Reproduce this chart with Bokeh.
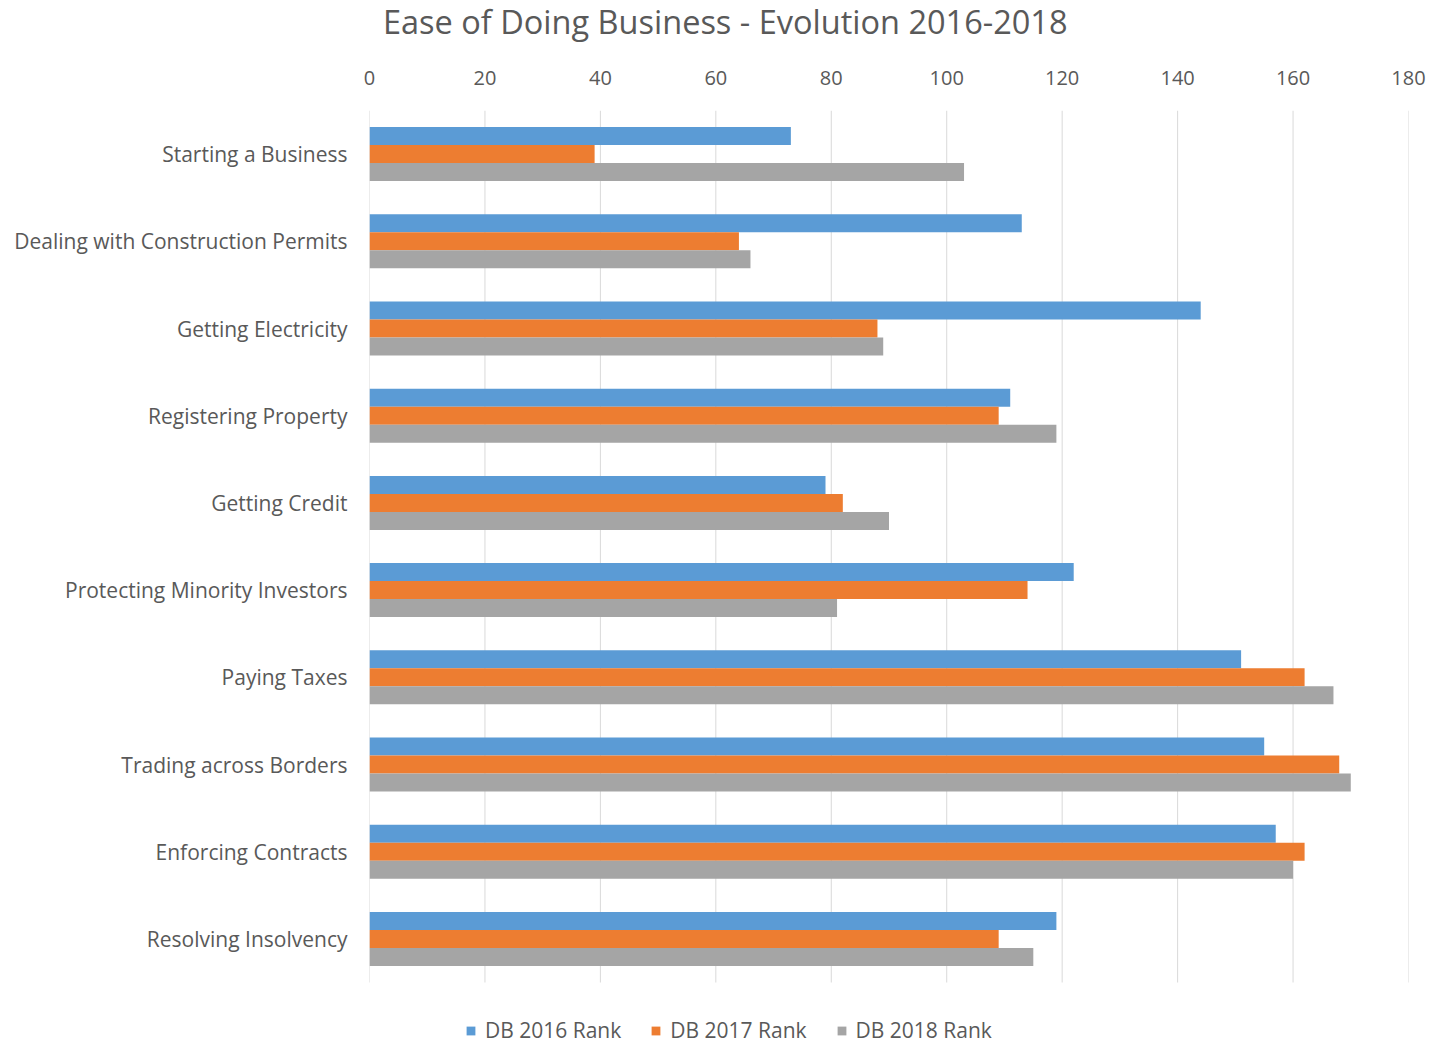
from bokeh.plotting import figure
from bokeh.models import Range1d, Legend, LegendItem, ColumnDataSource, FixedTicker, Div
from bokeh.layouts import column
from bokeh.transform import dodge
from bokeh.embed import file_html
from bokeh.resources import INLINE

categories = ["Starting a Business", "Dealing with Construction Permits", "Getting Electricity",
              "Registering Property", "Getting Credit", "Protecting Minority Investors",
              "Paying Taxes", "Trading across Borders", "Enforcing Contracts", "Resolving Insolvency"]
db2016 = [73, 113, 144, 111, 79, 122, 151, 155, 157, 119]
db2017 = [39, 64, 88, 109, 82, 114, 162, 168, 162, 109]
db2018 = [103, 66, 89, 119, 90, 81, 167, 170, 160, 115]
series_names = ["DB 2016 Rank", "DB 2017 Rank", "DB 2018 Rank"]
x_ticks = [0, 20, 40, 60, 80, 100, 120, 140, 160, 180]
title_text = "Ease of Doing Business - Evolution 2016-2018"

FONT = "Open Sans"
TXT = "#595959"
colors = ["#5B9BD5", "#ED7D31", "#A5A5A5"]

n = len(categories)
pos = [n - 1 - i for i in range(n)]          # first category on top
source = ColumnDataSource(dict(pos=pos, cat=categories, db2016=db2016, db2017=db2017, db2018=db2018))

W = 1436
DIV_H = 45                                   # title strip
BL, BT = 369, 110 - DIV_H                    # frame left / top inside the figure canvas
FW = 1039
UNIT = 87.2                                  # pixels per category band
FIG_H = 1045 - DIV_H
FH = FIG_H - BT                              # frame reaches the bottom (legend lives there)
y_top = n - 0.5
y_bot = y_top - FH / UNIT

p = figure(width=W, height=FIG_H,
           y_range=Range1d(y_bot, y_top), x_range=Range1d(0, 180),
           x_axis_location="above", output_backend="svg", toolbar_location=None,
           min_border_left=BL, min_border_right=W - BL - FW,
           min_border_top=BT, min_border_bottom=0)

# vertical gridlines, limited to the category area
p.segment(x0=x_ticks, x1=x_ticks, y0=[-0.5] * len(x_ticks), y1=[y_top] * len(x_ticks),
          line_color="#D9D9D9", line_width=1)

bh = 0.2065
renderers = []
for col, off, c in zip(["db2016", "db2017", "db2018"], [bh, 0.0, -bh], colors):
    r = p.hbar(y=dodge("pos", off), left=0, right=col, height=bh,
               source=source, fill_color=c, line_color=None)
    renderers.append(r)

p.outline_line_color = None
p.background_fill_color = "white"
p.border_fill_color = "white"
p.xgrid.grid_line_color = None
p.ygrid.grid_line_color = None

xa = p.xaxis[0]
xa.ticker = FixedTicker(ticks=x_ticks)
xa.axis_line_color = None
xa.major_tick_line_color = None
xa.minor_tick_line_color = None
xa.major_label_text_font = FONT
xa.major_label_text_font_size = "20px"
xa.major_label_text_color = TXT
xa.major_label_standoff = 20

ya = p.yaxis[0]
ya.ticker = FixedTicker(ticks=pos)
ya.major_label_overrides = {k: v for k, v in zip(pos, categories)}
ya.axis_line_color = None
ya.major_tick_line_color = None
ya.minor_tick_line_color = None
ya.major_tick_out = 0
ya.major_label_text_font = FONT
ya.major_label_text_font_size = "21px"
ya.major_label_text_color = TXT
ya.major_label_standoff = 22

legend = Legend(items=[LegendItem(label=s, renderers=[r]) for s, r in zip(series_names, renderers)],
                orientation="horizontal", location=(96, 1),
                glyph_width=11, glyph_height=11, label_standoff=9, spacing=29,
                padding=0, margin=0, border_line_color=None, background_fill_alpha=0,
                label_text_font=FONT, label_text_font_size="21px", label_text_color=TXT)
p.add_layout(legend, "center")

title_div = Div(text=('<div style="padding-left:383px;white-space:nowrap;font-family:\'Open Sans\';'
                      'font-size:32.5px;line-height:44px;color:#595959;">' + title_text + '</div>'),
                width=W, height=DIV_H, margin=0)

layout = column(title_div, p, spacing=0)

open("out.html", "w").write(file_html(layout, INLINE))
